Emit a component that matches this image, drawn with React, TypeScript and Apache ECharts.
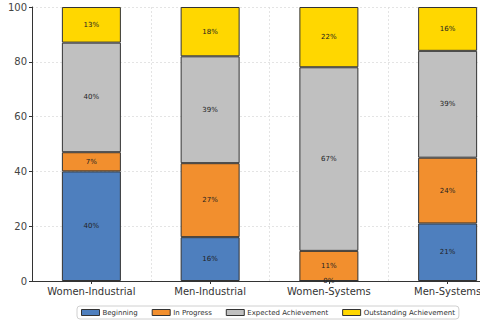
import React, { useEffect, useRef } from "react";
import * as echarts from "echarts";

const categories = ["Women-Industrial", "Men-Industrial", "Women-Systems", "Men-Systems"];
const seriesNames = ["Beginning", "In Progress", "Expected Achievement", "Outstanding Achievement"];
const beginning = [40, 16, 0, 21];
const inProgress = [7, 27, 11, 24];
const expected = [40, 39, 67, 39];
const outstanding = [13, 18, 22, 16];
const yTicks = [0, 20, 40, 60, 80, 100];
const colors = ["#4e7fbe", "#f28f2e", "#c0c0c0", "#ffd700"];

export default function App() {
  const ref = useRef<HTMLDivElement>(null);
  useEffect(() => {
    if (!ref.current) return;
    const chart = echarts.init(ref.current, null, { renderer: "svg" });
    const values = [beginning, inProgress, expected, outstanding];
    const font = "DejaVu Sans";
    chart.setOption({
      animation: false,
      textStyle: { fontFamily: font },
      grid: { left: 32, top: 7, width: 475, height: 274, containLabel: false, outerBoundsMode: "none" },
      legend: {
        top: 306,
        left: 77,
        width: 420,
        data: seriesNames,
        itemWidth: 18,
        itemHeight: 6,
        itemGap: 14,
        icon: "rect",
        borderColor: "#d0d0d0",
        borderWidth: 1,
        borderRadius: 3,
        padding: [3, 4, 3, 4],
        textStyle: { fontSize: 7, color: "#333", fontFamily: font, padding: [0, 0, 0, -2] },
        itemStyle: { borderColor: "#333", borderWidth: 1 },
      },
      xAxis: {
        type: "category",
        data: categories,
        axisLine: { lineStyle: { color: "#333", width: 1 } },
        axisTick: { show: true, alignWithLabel: true, length: 3, lineStyle: { color: "#333" } },
        axisLabel: { fontSize: 10, color: "#333", margin: 5, fontFamily: font, interval: 0 },
        splitLine: { show: true, interval: 0, lineStyle: { color: "#ddd", type: [2, 2], width: 0.8 } },
        boundaryGap: true,
      },
      yAxis: {
        type: "value",
        min: yTicks[0],
        max: yTicks[yTicks.length - 1],
        interval: 20,
        name: "Percentage",
        nameLocation: "middle",
        nameGap: 20,
        nameTextStyle: { fontSize: 10, color: "#333", fontFamily: font },
        axisLine: { show: true, lineStyle: { color: "#333", width: 1 } },
        axisTick: { show: true, length: 3, lineStyle: { color: "#333" } },
        axisLabel: { fontSize: 10, color: "#444", margin: 5, fontFamily: font },
        splitLine: { show: true, lineStyle: { color: "#ddd", type: [2, 2], width: 0.8 } },
      },
      series: seriesNames.map((name, i) => ({
        name,
        type: "bar",
        stack: "total",
        barWidth: 59,
        data: values[i],
        itemStyle: { color: colors[i], borderColor: "#333", borderWidth: 1 },
        label: {
          show: true,
          position: "inside",
          formatter: (p: any) => `${p.value}%`,
          fontSize: 7,
          color: "#222",
          fontFamily: font,
        },
      })),
    });
    return () => chart.dispose();
  }, []);
  return <div ref={ref} style={{ width: 480, height: 323, position: "absolute", left: 0, top: 0 }} />;
}
